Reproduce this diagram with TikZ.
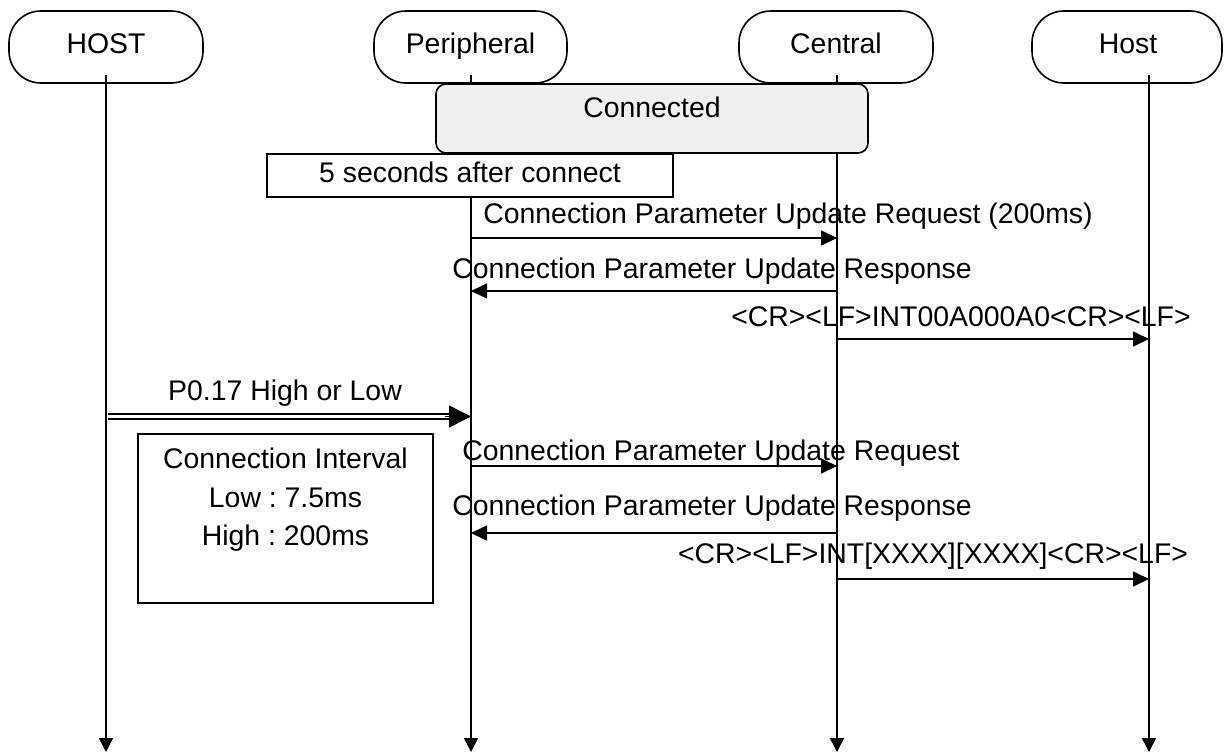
\documentclass[tikz,border=0pt]{standalone}
\usepackage{fontspec}
\setmainfont{Liberation Sans}
\usetikzlibrary{arrows.meta}
\definecolor{connfill}{HTML}{F0F0F0}
\frenchspacing
\begin{document}
\begin{tikzpicture}[x=1pt,y=-1pt,
  every node/.style={font=\fontsize{28.4}{39}\selectfont, inner sep=0pt, outer sep=0pt},
  box/.style={draw, line width=1.6pt},
  hdr/.style={box, fill=white, rounded corners=32pt, minimum height=72pt},
  txt/.style={anchor=base},
  life/.style={line width=1.5pt, -{Triangle[length=14pt,width=14pt]}},
  msg/.style={line width=1.6pt, -{Triangle[length=16pt,width=15pt]}},
  dbl/.style={double, double distance=3.4pt, line width=1.5pt, shorten >=19pt},
  bigtip/.style={line width=1.5pt, -{Triangle[length=22pt,width=22pt]}},
]
\useasboundingbox (0,0) rectangle (1229,753);

% headers
\node[hdr, minimum width=194pt] (hHOST) at (106,47) {};
\node[hdr, minimum width=193pt] (hPer) at (470.5,47) {};
\node[hdr, minimum width=194pt] (hCen) at (836,47) {};
\node[hdr, minimum width=190pt] (hHost) at (1127,47) {};
\node[txt] (tHOST) at (106,53) {HOST};
\node[txt] (tPer) at (470.5,53) {Peripheral};
\node[txt] (tCen) at (836,53) {Central};
\node[txt] (tHost) at (1128,53) {Host};

% lifelines
\coordinate (lHt) at (106,75);  \coordinate (lHb) at (106,752);
\coordinate (lPt) at (471,75);  \coordinate (lPb) at (471,752);
\coordinate (lCt) at (837,75);  \coordinate (lCb) at (837,752);
\coordinate (lRt) at (1149,75); \coordinate (lRb) at (1149,752);
\draw[life] (lHt) -- (lHb);
\draw[life] (lPt) -- (lPb);
\draw[life] (lCt) -- (lCb);
\draw[life] (lRt) -- (lRb);

% state boxes
\node[box, fill=connfill, rounded corners=10pt, minimum width=432pt, minimum height=69pt] (conn) at (652,118.5) {};
\node[txt] (tconn) at (652,117) {Connected};
\node[box, fill=white, minimum width=406pt, minimum height=43pt] (five) at (470,175.5) {};
\node[txt] (tfive) at (470,182) {5 seconds after connect};

% messages group 1
\coordinate (m1a) at (471,238); \coordinate (m1b) at (837,238);
\coordinate (m2a) at (837,291); \coordinate (m2b) at (471,291);
\coordinate (m3a) at (837,339); \coordinate (m3b) at (1149,339);
\draw[msg] (m1a) -- (m1b);
\draw[msg] (m2a) -- (m2b);
\draw[msg] (m3a) -- (m3b);
\node[txt] (t1) at (788,223) {Connection Parameter Update Request (200ms)};
\node[txt] (t2) at (712,278) {Connection Parameter Update Response};
\node[txt] (t3) at (961,326) {<CR><LF>INT00A000A0<CR><LF>};

% double arrow
\coordinate (dA) at (108,416.5); \coordinate (dB) at (471,416.5);
\coordinate (dT) at (445,416.5);
\draw[dbl] (dA) -- (dB);
\draw[bigtip] (dT) -- (dB);
\node[txt] (tP) at (285,400) {P0.17 High or Low};

% connection interval box
\node[box, fill=white, minimum width=295pt, minimum height=169pt] (ci) at (285.5,518.5) {};
\node[txt] (ci1) at (285.5,468) {Connection Interval};
\node[txt] (ci2) at (285.5,507) {Low : 7.5ms};
\node[txt] (ci3) at (285.5,545) {High : 200ms};

% messages group 2
\coordinate (m4a) at (471,466); \coordinate (m4b) at (837,466);
\coordinate (m5a) at (837,533); \coordinate (m5b) at (471,533);
\coordinate (m6a) at (837,579); \coordinate (m6b) at (1149,579);
\draw[msg] (m4a) -- (m4b);
\draw[msg] (m5a) -- (m5b);
\draw[msg] (m6a) -- (m6b);
\node[txt] (t4) at (711,460) {Connection Parameter Update Request};
\node[txt] (t5) at (712,515) {Connection Parameter Update Response};
\node[txt] (t6) at (933,563) {<CR><LF>INT[XXXX][XXXX]<CR><LF>};
\end{tikzpicture}
\end{document}
